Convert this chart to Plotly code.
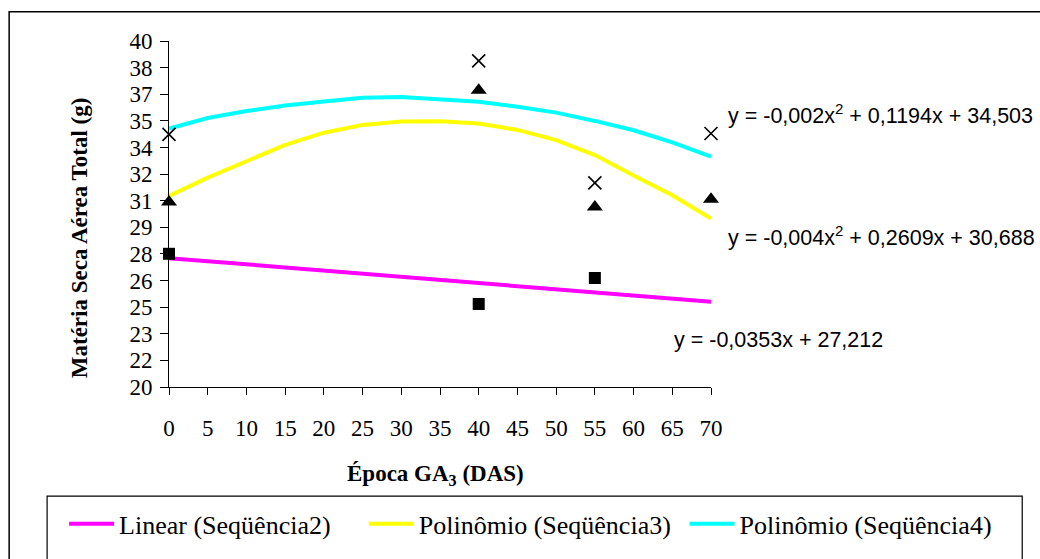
import numpy as np
import plotly.graph_objects as go

# ---- data ----
epoca = [0, 40, 55, 70]
seq2 = [27.7, 24.8, 26.3, None]      # squares
seq3 = [30.7, 37.15, 30.4, 30.85]    # triangles
seq4 = [34.6, 38.85, 31.8, 34.65]    # crosses

trend_x = [0, 5, 10, 15, 20, 25, 30, 35, 40, 45, 50, 55, 60, 65, 70]
trend3 = [31.04, 32.1, 33.05, 34.0, 34.7, 35.15, 35.34, 35.36, 35.23, 34.86, 34.27, 33.41, 32.22, 31.08, 29.74]
trend4 = [34.94, 35.55, 35.95, 36.27, 36.5, 36.72, 36.77, 36.64, 36.49, 36.2, 35.86, 35.38, 34.84, 34.14, 33.31]
lin_x = [0, 35, 70]
trend2 = [27.45, 26.2, 24.93]

y_ticklabels = ["20", "22", "23", "25", "26", "28", "29", "31", "32", "34", "35", "37", "38", "40"]
x_ticks = list(range(0, 75, 5))

eq4 = "y = -0,002x<sup>2</sup> + 0,1194x + 34,503"
eq3 = "y = -0,004x<sup>2</sup> + 0,2609x + 30,688"
eq2 = "y = -0,0353x + 27,212"

SERIF = "Liberation Serif"
SANS = "Liberation Sans"

fig = go.Figure()

# trend lines (legend entries)
fig.add_trace(go.Scatter(x=lin_x, y=trend2, mode="lines", name="Linear (Seqüência2)",
                         line=dict(color="#FF00FF", width=4), legend="legend"))
fig.add_trace(go.Scatter(x=trend_x, y=trend3, mode="lines", name="Polinômio (Seqüência3)",
                         line=dict(color="#FFFF00", width=4), legend="legend2"))
fig.add_trace(go.Scatter(x=trend_x, y=trend4, mode="lines", name="Polinômio (Seqüência4)",
                         line=dict(color="#00FFFF", width=4), legend="legend3"))

# data markers
fig.add_trace(go.Scatter(x=epoca, y=seq2, mode="markers", showlegend=False, cliponaxis=False,
                         marker=dict(symbol="square", size=12, color="black")))
fig.add_trace(go.Scatter(x=epoca, y=seq3, mode="markers", showlegend=False, cliponaxis=False,
                         marker=dict(symbol="triangle-up", size=14, color="black")))
fig.add_trace(go.Scatter(x=epoca, y=seq4, mode="markers", showlegend=False, cliponaxis=False,
                         marker=dict(symbol="x-thin", size=13, color="black",
                                     line=dict(color="black", width=1.6))))

L, R, T, B = 169, 328.5, 41.4, 169
W, H = 1040, 559
pw, ph = W - L - R, H - T - B

def px(xp):
    return (xp - L) / pw

def py(yp):
    return (H - B - yp) / ph

def legend_at(xp):
    return dict(x=px(xp), y=py(528), orientation="h", xanchor="left", yanchor="middle",
                bgcolor="rgba(0,0,0,0)", borderwidth=0, itemwidth=45,
                font=dict(family=SERIF, size=26, color="black"))

fig.update_layout(
    width=W, height=H,
    margin=dict(l=L, r=R, t=T, b=B),
    font=dict(family=SERIF, color="black"),
    paper_bgcolor="white", plot_bgcolor="white",
    xaxis=dict(range=[0, 70], tickvals=x_ticks, ticks="outside", ticklen=7, tickcolor="black",
               showline=True, linecolor="black", linewidth=1, showgrid=False, zeroline=False,
               ticklabelstandoff=13, tickfont=dict(family=SERIF, size=23, color="black")),
    yaxis=dict(range=[20, 40], tickvals=list(np.linspace(20, 40, len(y_ticklabels))),
               ticktext=y_ticklabels, ticks="outside", ticklen=8, tickcolor="black",
               showline=True, linecolor="black", linewidth=1, showgrid=False, zeroline=False,
               ticklabelstandoff=3, tickfont=dict(family=SERIF, size=23, color="black")),
    legend=legend_at(64),
    legend2=legend_at(364),
    legend3=legend_at(685),
    showlegend=True,
)

# equations
for txt, xp, yp in [(eq4, 727, 115), (eq3, 727, 238), (eq2, 672, 343)]:
    fig.add_annotation(text=txt, x=px(xp), y=py(yp), xref="paper", yref="paper",
                       xanchor="left", yanchor="middle", showarrow=False,
                       font=dict(family=SANS, size=21.5, color="black"))

# axis titles
fig.add_annotation(text="<b>Época GA<sub>3</sub> (DAS)</b>", x=px(436), y=py(479), xref="paper", yref="paper",
                   xanchor="center", yanchor="middle", showarrow=False,
                   font=dict(family=SERIF, size=23, color="black"))
fig.add_annotation(text="<b>Matéria Seca Aérea Total (g)</b>", x=px(79), y=py(240), xref="paper", yref="paper",
                   xanchor="center", yanchor="middle", showarrow=False, textangle=-90,
                   font=dict(family=SERIF, size=23, color="black"))

# outer chart border and legend box
fig.add_shape(type="rect", xref="paper", yref="paper", x0=px(9), x1=px(1050), y0=py(570), y1=py(12),
              line=dict(color="black", width=1.5), fillcolor="rgba(0,0,0,0)", layer="below")
fig.add_shape(type="rect", xref="paper", yref="paper", x0=px(47), x1=px(1023), y0=py(570), y1=py(500),
              line=dict(color="black", width=1.2), fillcolor="rgba(0,0,0,0)", layer="below")

fig.write_html("out.html")
